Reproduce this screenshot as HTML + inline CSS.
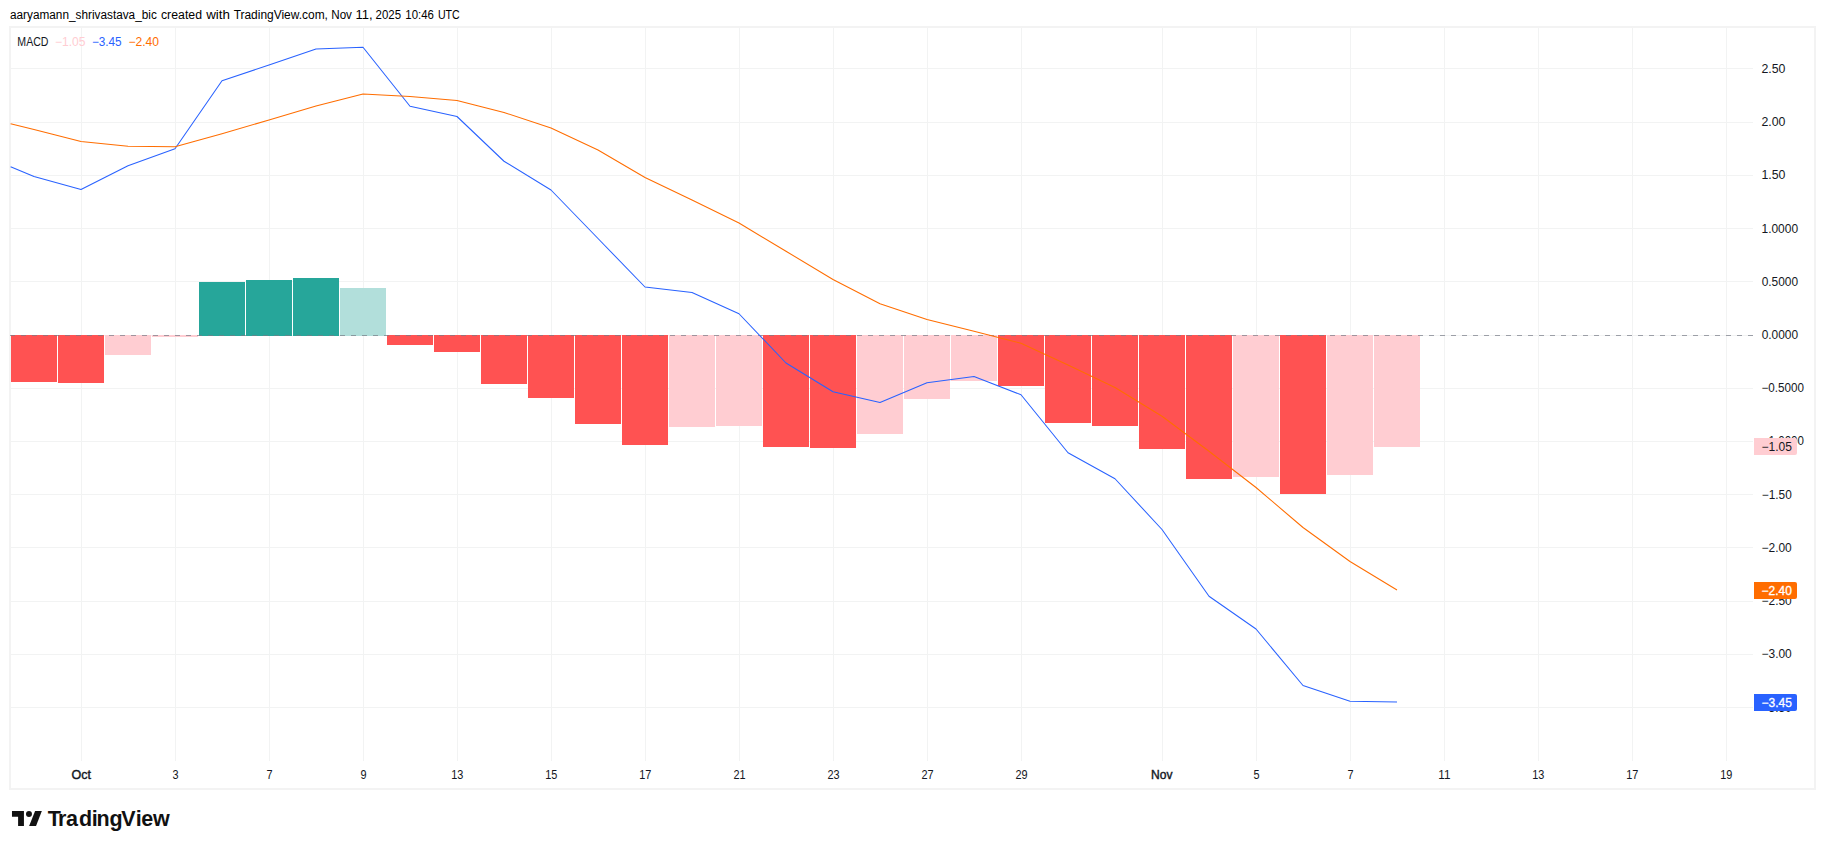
<!DOCTYPE html>
<html lang="en"><head><meta charset="utf-8"><title>MACD chart</title>
<style>
html,body{margin:0;padding:0;background:#fff;}
body{width:1825px;height:849px;overflow:hidden;position:relative;font-family:"Liberation Sans",sans-serif;color:#131722;}
svg{position:absolute;left:0;top:0;}
text{font-family:"Liberation Sans",sans-serif;font-size:12px;fill:#131722;}
</style></head><body>
<svg width="1825" height="849" viewBox="0 0 1825 849">
<rect x="10" y="27" width="1805" height="762" fill="#fff" stroke="#f3f3f3" stroke-width="2"/>
<g stroke="#f2f3f3" stroke-width="1" shape-rendering="crispEdges">
<line x1="81.5" y1="28" x2="81.5" y2="761"/>
<line x1="175.5" y1="28" x2="175.5" y2="761"/>
<line x1="269.5" y1="28" x2="269.5" y2="761"/>
<line x1="363.5" y1="28" x2="363.5" y2="761"/>
<line x1="457.5" y1="28" x2="457.5" y2="761"/>
<line x1="551.5" y1="28" x2="551.5" y2="761"/>
<line x1="645.5" y1="28" x2="645.5" y2="761"/>
<line x1="739.5" y1="28" x2="739.5" y2="761"/>
<line x1="833.5" y1="28" x2="833.5" y2="761"/>
<line x1="927.5" y1="28" x2="927.5" y2="761"/>
<line x1="1021.5" y1="28" x2="1021.5" y2="761"/>
<line x1="1162.5" y1="28" x2="1162.5" y2="761"/>
<line x1="1256.5" y1="28" x2="1256.5" y2="761"/>
<line x1="1350.5" y1="28" x2="1350.5" y2="761"/>
<line x1="1444.5" y1="28" x2="1444.5" y2="761"/>
<line x1="1538.5" y1="28" x2="1538.5" y2="761"/>
<line x1="1632.5" y1="28" x2="1632.5" y2="761"/>
<line x1="1726.5" y1="28" x2="1726.5" y2="761"/>
<line x1="11" y1="68.5" x2="1753" y2="68.5"/>
<line x1="11" y1="122.5" x2="1753" y2="122.5"/>
<line x1="11" y1="175.5" x2="1753" y2="175.5"/>
<line x1="11" y1="228.5" x2="1753" y2="228.5"/>
<line x1="11" y1="281.5" x2="1753" y2="281.5"/>
<line x1="11" y1="335.5" x2="1753" y2="335.5"/>
<line x1="11" y1="388.5" x2="1753" y2="388.5"/>
<line x1="11" y1="441.5" x2="1753" y2="441.5"/>
<line x1="11" y1="494.5" x2="1753" y2="494.5"/>
<line x1="11" y1="547.5" x2="1753" y2="547.5"/>
<line x1="11" y1="601.5" x2="1753" y2="601.5"/>
<line x1="11" y1="654.5" x2="1753" y2="654.5"/>
<line x1="11" y1="707.5" x2="1753" y2="707.5"/>
</g>
<g shape-rendering="crispEdges">
<rect x="11" y="335" width="46" height="47" fill="#ff5252"/>
<rect x="58" y="335" width="46" height="48" fill="#ff5252"/>
<rect x="105" y="335" width="46" height="20" fill="#ffcdd2"/>
<rect x="152" y="335" width="46" height="2" fill="#ffcdd2"/>
<rect x="199" y="282" width="46" height="54" fill="#26a69a"/>
<rect x="246" y="280" width="46" height="56" fill="#26a69a"/>
<rect x="293" y="278" width="46" height="58" fill="#26a69a"/>
<rect x="340" y="288" width="46" height="48" fill="#b2dfdb"/>
<rect x="387" y="335" width="46" height="10" fill="#ff5252"/>
<rect x="434" y="335" width="46" height="17" fill="#ff5252"/>
<rect x="481" y="335" width="46" height="49" fill="#ff5252"/>
<rect x="528" y="335" width="46" height="63" fill="#ff5252"/>
<rect x="575" y="335" width="46" height="89" fill="#ff5252"/>
<rect x="622" y="335" width="46" height="110" fill="#ff5252"/>
<rect x="669" y="335" width="46" height="92" fill="#ffcdd2"/>
<rect x="716" y="335" width="46" height="91" fill="#ffcdd2"/>
<rect x="763" y="335" width="46" height="112" fill="#ff5252"/>
<rect x="810" y="335" width="46" height="113" fill="#ff5252"/>
<rect x="857" y="335" width="46" height="99" fill="#ffcdd2"/>
<rect x="904" y="335" width="46" height="64" fill="#ffcdd2"/>
<rect x="951" y="335" width="46" height="46" fill="#ffcdd2"/>
<rect x="998" y="335" width="46" height="51" fill="#ff5252"/>
<rect x="1045" y="335" width="46" height="88" fill="#ff5252"/>
<rect x="1092" y="335" width="46" height="91" fill="#ff5252"/>
<rect x="1139" y="335" width="46" height="114" fill="#ff5252"/>
<rect x="1186" y="335" width="46" height="144" fill="#ff5252"/>
<rect x="1233" y="335" width="46" height="142" fill="#ffcdd2"/>
<rect x="1280" y="335" width="46" height="159" fill="#ff5252"/>
<rect x="1327" y="335" width="46" height="140" fill="#ffcdd2"/>
<rect x="1374" y="335" width="46" height="112" fill="#ffcdd2"/>
</g>
<line x1="10" y1="335.5" x2="1753" y2="335.5" stroke="#787b86" stroke-opacity="0.7" stroke-width="1" stroke-dasharray="5 6" shape-rendering="crispEdges"/>
<polyline points="10.6,166.75 34,176.5 81,189.5 128,165.75 175,148.75 222,80.75 269,65 316,49 363,47.25 410,106.25 457,116.5 504,161.25 551,190 598,238.5 645,287 692,292.5 739,313.75 786,363 833,391.75 880,402.5 927,382.75 974,376.5 1021,394.75 1068,452.75 1115,478.75 1162,529.5 1209,596.25 1256,629 1303,685.5 1350,701.25 1397,702" fill="none" stroke="#2962ff" stroke-width="1.05" stroke-linejoin="round"/>
<polyline points="10.6,123.65 34,129.5 81,141.5 128,146.25 175,146.75 222,133.75 269,120 316,106 363,94 410,96.5 457,100.5 504,112.5 551,128 598,150 645,177.5 692,200 739,223 786,251.25 833,279.5 880,303.75 927,319.5 974,331.25 1021,343.25 1068,365 1115,387.5 1162,416.25 1209,451.25 1256,487.5 1303,527.5 1350,561.5 1397,590" fill="none" stroke="#ff6d00" stroke-width="1.05" stroke-linejoin="round"/>
<text x="1761.48" y="73" textLength="24.00" lengthAdjust="spacingAndGlyphs">2.50</text>
<text x="1761.48" y="126" textLength="24.00" lengthAdjust="spacingAndGlyphs">2.00</text>
<text x="1761.46" y="179" textLength="24.02" lengthAdjust="spacingAndGlyphs">1.50</text>
<text x="1761.49" y="233" textLength="36.58" lengthAdjust="spacingAndGlyphs">1.0000</text>
<text x="1761.63" y="286" textLength="36.43" lengthAdjust="spacingAndGlyphs">0.5000</text>
<text x="1761.63" y="339" textLength="36.43" lengthAdjust="spacingAndGlyphs">0.0000</text>
<text x="1761.53" y="392" textLength="42.43" lengthAdjust="spacingAndGlyphs">−0.5000</text>
<text x="1761.83" y="445" textLength="42.12" lengthAdjust="spacingAndGlyphs">−1.0000</text>
<text x="1761.82" y="499" textLength="29.95" lengthAdjust="spacingAndGlyphs">−1.50</text>
<text x="1761.51" y="552" textLength="30.26" lengthAdjust="spacingAndGlyphs">−2.00</text>
<text x="1761.51" y="605" textLength="30.26" lengthAdjust="spacingAndGlyphs">−2.50</text>
<text x="1761.51" y="658" textLength="30.26" lengthAdjust="spacingAndGlyphs">−3.00</text>
<text x="1761.51" y="712" textLength="30.26" lengthAdjust="spacingAndGlyphs">−3.50</text>
<text y="19" style="fill:#000"><tspan x="10.00" textLength="146.81" lengthAdjust="spacingAndGlyphs">aaryamann_shrivastava_bic</tspan> <tspan x="160.98" textLength="41.01" lengthAdjust="spacingAndGlyphs">created</tspan> <tspan x="206.22" textLength="23.75" lengthAdjust="spacingAndGlyphs">with</tspan> <tspan x="233.64" textLength="94.32" lengthAdjust="spacingAndGlyphs">TradingView.com,</tspan> <tspan x="331.25" textLength="20.69" lengthAdjust="spacingAndGlyphs">Nov</tspan> <tspan x="355.56" textLength="17.15" lengthAdjust="spacingAndGlyphs">11,</tspan> <tspan x="375.62" textLength="25.46" lengthAdjust="spacingAndGlyphs">2025</tspan> <tspan x="405.33" textLength="28.57" lengthAdjust="spacingAndGlyphs">10:46</tspan> <tspan x="437.88" textLength="21.82" lengthAdjust="spacingAndGlyphs">UTC</tspan></text>
<path d="M1754 438.0h41a2 2 0 0 1 2 2v13a2 2 0 0 1 -2 2h-41z" fill="#ffcdd2"/>
<text x="1761.51" y="451.0" textLength="30.40" lengthAdjust="spacingAndGlyphs" style="fill:#131722">−1.05</text>
<path d="M1754 582.0h41a2 2 0 0 1 2 2v13a2 2 0 0 1 -2 2h-41z" fill="#ff6d00"/>
<text x="1761.51" y="595.0" textLength="30.36" lengthAdjust="spacingAndGlyphs" style="fill:#ffffff;stroke:#fff;stroke-width:0.3px">−2.40</text>
<path d="M1754 694.0h41a2 2 0 0 1 2 2v13a2 2 0 0 1 -2 2h-41z" fill="#2962ff"/>
<text x="1761.51" y="707.0" textLength="30.40" lengthAdjust="spacingAndGlyphs" style="fill:#ffffff;stroke:#fff;stroke-width:0.3px">−3.45</text>
<text x="71.41" y="779" textLength="19.48" lengthAdjust="spacingAndGlyphs" style="stroke:#131722;stroke-width:0.4px">Oct</text>
<text x="172.50" y="779" textLength="6.07" lengthAdjust="spacingAndGlyphs">3</text>
<text x="266.46" y="779" textLength="6.07" lengthAdjust="spacingAndGlyphs">7</text>
<text x="360.47" y="779" textLength="6.07" lengthAdjust="spacingAndGlyphs">9</text>
<text x="451.25" y="779" textLength="12.15" lengthAdjust="spacingAndGlyphs">13</text>
<text x="545.24" y="779" textLength="12.15" lengthAdjust="spacingAndGlyphs">15</text>
<text x="639.29" y="779" textLength="12.15" lengthAdjust="spacingAndGlyphs">17</text>
<text x="733.42" y="779" textLength="12.15" lengthAdjust="spacingAndGlyphs">21</text>
<text x="827.39" y="779" textLength="12.15" lengthAdjust="spacingAndGlyphs">23</text>
<text x="921.43" y="779" textLength="12.15" lengthAdjust="spacingAndGlyphs">27</text>
<text x="1015.41" y="779" textLength="12.15" lengthAdjust="spacingAndGlyphs">29</text>
<text x="1151.11" y="779" textLength="21.43" lengthAdjust="spacingAndGlyphs" style="stroke:#131722;stroke-width:0.4px">Nov</text>
<text x="1253.47" y="779" textLength="6.07" lengthAdjust="spacingAndGlyphs">5</text>
<text x="1347.46" y="779" textLength="6.07" lengthAdjust="spacingAndGlyphs">7</text>
<text x="1438.28" y="779" textLength="12.15" lengthAdjust="spacingAndGlyphs">11</text>
<text x="1532.25" y="779" textLength="12.15" lengthAdjust="spacingAndGlyphs">13</text>
<text x="1626.29" y="779" textLength="12.15" lengthAdjust="spacingAndGlyphs">17</text>
<text x="1720.27" y="779" textLength="12.15" lengthAdjust="spacingAndGlyphs">19</text>
<text x="17.33" y="46" textLength="31.18" lengthAdjust="spacingAndGlyphs">MACD</text>
<text x="54.90" y="46" textLength="30.60" lengthAdjust="spacingAndGlyphs" style="fill:#ffcdd2">−1.05</text>
<text x="91.92" y="46" textLength="29.77" lengthAdjust="spacingAndGlyphs" style="fill:#2962ff">−3.45</text>
<text x="128.40" y="46" textLength="30.57" lengthAdjust="spacingAndGlyphs" style="fill:#ff6d00">−2.40</text>
<g fill="#111"><path d="M11.98 811H23.93V826H18.1V816.8H11.98Z"/><path d="M35.1 811H41.85L36.02 826H29.13Z"/><circle cx="28.98" cy="813.96" r="2.98"/></g>
<text x="47.86 58.08 66.09 78.95 91.67 96.44 109.41 121.15 135.67 141.17 153.10" y="826" style="font-size:21.5px;font-weight:bold;fill:#111">TradingView</text>
</svg>
</body></html>
